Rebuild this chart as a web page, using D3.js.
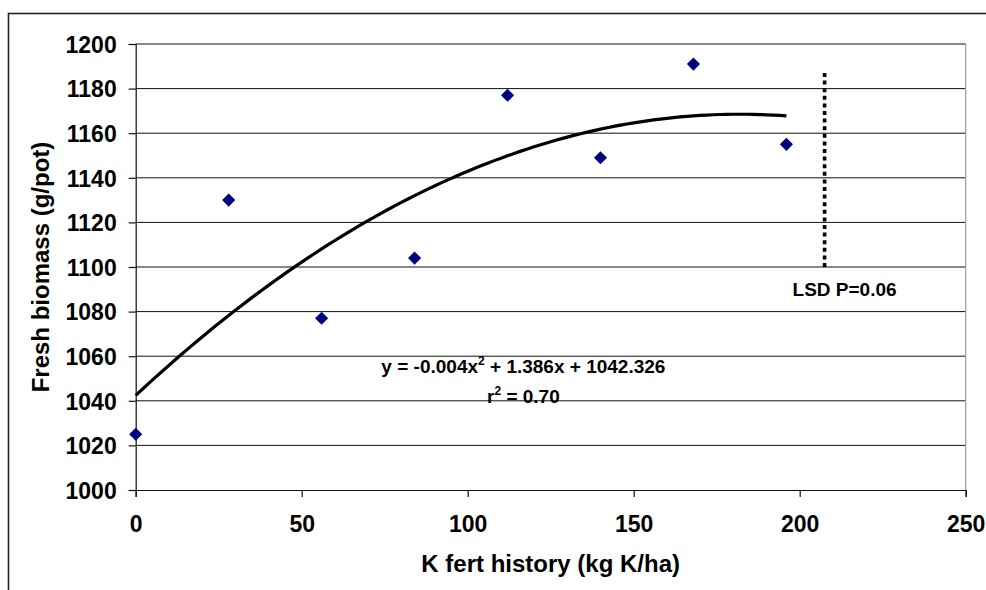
<!DOCTYPE html>
<html>
<head>
<meta charset="utf-8">
<script src="https://cdnjs.cloudflare.com/ajax/libs/d3/7.8.5/d3.min.js"></script>
<style>
    body { margin: 0; background: #fff; }
    text { font-family: Arial, "Liberation Sans", sans-serif; font-weight: bold; fill: #000; }
</style>
</head>
<body>
<div id="chartContainer"></div>
<script>

// K fertiliser history (kg K/ha) and the fresh biomass measured for each
var kFert = [0, 28, 56, 84, 112, 140, 168, 196];
var biomass = [1025, 1130, 1077, 1104, 1177, 1149, 1191, 1155];

var yTicks = [1000, 1020, 1040, 1060, 1080, 1100, 1120, 1140, 1160, 1180, 1200];
var xTicks = [0, 50, 100, 150, 200, 250];

// LSD bar: x position, bottom and top of the bar
var lsdX = [207.5];
var lsdRange = [1100, 1188];

var totalWidth = 986, totalHeight = 590;
var margin = {left: 135.7, top: 44, right: 20.3, bottom: 100},
    width = totalWidth - margin.left - margin.right,
    height = totalHeight - margin.top - margin.bottom;

var svg = d3.select("#chartContainer").append("svg")
    .attr("width", totalWidth)
    .attr("height", totalHeight);

//Outer chart frame, runs off the right and bottom of the picture
svg.append("rect")
    .attr("x", 8.5).attr("y", 13.5)
    .attr("width", 1000).attr("height", 600)
    .style("fill", "none")
    .style("stroke", "#222")
    .style("stroke-width", 1.6);

var g = svg.append("g")
    .attr("transform", "translate(" + margin.left + "," + margin.top + ")");

var x = d3.scaleLinear().domain([0, 250]).range([0, width]);
var y = d3.scaleLinear().domain([1000, 1200]).range([height, 0]);

//Horizontal gridlines
g.selectAll(".grid")
    .data(yTicks.slice(1))
    .enter().append("line")
    .attr("class", "grid")
    .attr("x1", 0).attr("x2", width)
    .attr("y1", function(d) { return y(d); })
    .attr("y2", function(d) { return y(d); })
    .style("stroke", "#111")
    .style("stroke-width", 1);

//Plot area border on the right side
g.append("line")
    .attr("x1", width).attr("x2", width)
    .attr("y1", 0).attr("y2", height)
    .style("stroke", "#999")
    .style("stroke-width", 1.2);

//Axes
var yAxis = g.append("g")
    .call(d3.axisLeft(y).tickValues(yTicks).tickSize(7).tickPadding(12).tickFormat(d3.format("d")));
var xAxis = g.append("g")
    .attr("transform", "translate(0," + height + ")")
    .call(d3.axisBottom(x).tickValues(xTicks).tickSize(7).tickPadding(19).tickFormat(d3.format("d")));

[yAxis, xAxis].forEach(function(ax) {
    ax.select(".domain").style("stroke", "#111").style("stroke-width", 1.2);
    ax.selectAll(".tick line").style("stroke", "#111").style("stroke-width", 1.2);
    ax.selectAll("text")
        .style("font-family", "Arial, 'Liberation Sans', sans-serif")
        .style("font-weight", "bold")
        .style("font-size", "23px")
        .style("fill", "#000");
});
yAxis.selectAll("text").attr("dy", "0.36em");

//Quadratic least squares fit of biomass on K fert (the Excel trendline)
function polyFit2(xs, ys) {
    var n = xs.length, s = [0, 0, 0, 0, 0], t = [0, 0, 0];
    for (var i = 0; i < n; i++) {
        var p = 1;
        for (var k = 0; k < 5; k++) { s[k] += p; if (k < 3) t[k] += p * ys[i]; p *= xs[i]; }
    }
    var m = [[s[0], s[1], s[2], t[0]], [s[1], s[2], s[3], t[1]], [s[2], s[3], s[4], t[2]]];
    //Gaussian elimination
    for (var c = 0; c < 3; c++) {
        for (var r = c + 1; r < 3; r++) {
            var f = m[r][c] / m[c][c];
            for (var j = c; j < 4; j++) m[r][j] -= f * m[c][j];
        }
    }
    var coef = [0, 0, 0];
    for (var r2 = 2; r2 >= 0; r2--) {
        var sum = m[r2][3];
        for (var j2 = r2 + 1; j2 < 3; j2++) sum -= m[r2][j2] * coef[j2];
        coef[r2] = sum / m[r2][r2];
    }
    return coef;
}
var coef = polyFit2(kFert, biomass);

var trendX = d3.range(0, d3.max(kFert) + 0.001, 2);
var trendLine = d3.line()
    .x(function(d) { return x(d); })
    .y(function(d) { return y(coef[0] + coef[1] * d + coef[2] * d * d); })
    .curve(d3.curveLinear);

g.append("path")
    .datum(trendX)
    .attr("d", trendLine)
    .style("fill", "none")
    .style("stroke", "#000")
    .style("stroke-width", 3.2)
    .style("stroke-linejoin", "round");

//Diamond markers: a square turned 45 degrees
var diamond = d3.symbol().type(d3.symbolSquare).size(86);
g.selectAll(".point")
    .data(kFert.map(function(d, i) { return {k: d, b: biomass[i]}; }))
    .enter().append("path")
    .attr("class", "point")
    .attr("d", diamond)
    .attr("transform", function(d) { return "translate(" + x(d.k) + "," + y(d.b) + ") rotate(45)"; })
    .style("fill", "#000080");

//LSD bar
g.append("line")
    .attr("x1", x(lsdX[0])).attr("x2", x(lsdX[0]))
    .attr("y1", y(lsdRange[0])).attr("y2", y(lsdRange[1]))
    .style("stroke", "#000")
    .style("stroke-width", 3.6)
    .style("stroke-dasharray", "4,3.6");

g.append("text")
    .attr("x", x(lsdX[0]) + 20)
    .attr("y", y(lsdRange[0]) + 29)
    .style("text-anchor", "middle")
    .style("font-size", "19px")
    .text("LSD P=0.06");

//Equation and r squared
var eq = g.append("text")
    .attr("x", 523.4 - margin.left)
    .attr("y", 373.3 - margin.top)
    .style("text-anchor", "middle")
    .style("font-size", "19px");
eq.append("tspan").text("y = -0.004x");
eq.append("tspan").attr("dy", -8).style("font-size", "12px").text("2");
eq.append("tspan").attr("dy", 8).text(" + 1.386x + 1042.326");

var r2 = g.append("text")
    .attr("x", 523.4 - margin.left)
    .attr("y", 402.7 - margin.top)
    .style("text-anchor", "middle")
    .style("font-size", "19px");
r2.append("tspan").text("r");
r2.append("tspan").attr("dy", -8).style("font-size", "12px").text("2");
r2.append("tspan").attr("dy", 8).text(" = 0.70");

//Axis titles
svg.append("text")
    .attr("x", margin.left + width / 2)
    .attr("y", 571.7)
    .style("text-anchor", "middle")
    .style("font-size", "24px")
    .text("K fert history (kg K/ha)");

svg.append("text")
    .attr("transform", "translate(49," + (margin.top + height / 2) + ") rotate(-90)")
    .style("text-anchor", "middle")
    .style("font-size", "24px")
    .text("Fresh biomass (g/pot)");

</script>
</body>
</html>
